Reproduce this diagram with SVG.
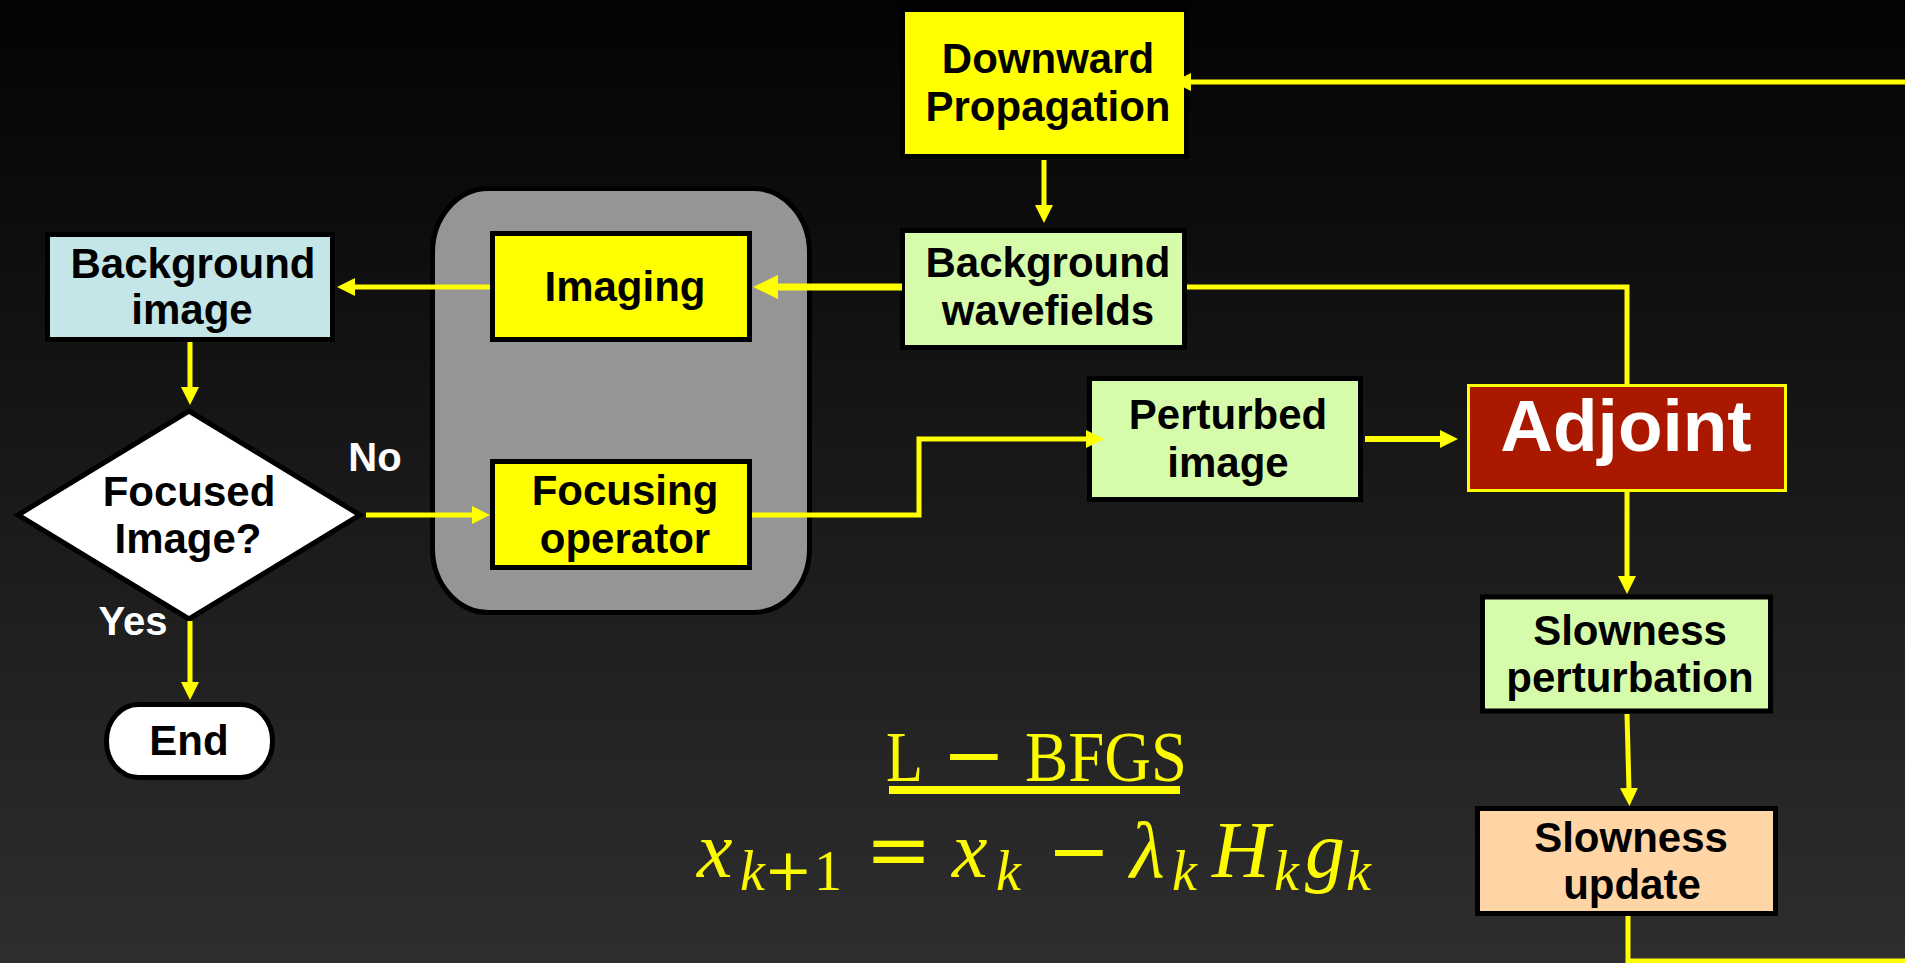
<svg xmlns="http://www.w3.org/2000/svg" width="1905" height="963" viewBox="0 0 1905 963">
<defs>
<linearGradient id="bg" x1="0" y1="0" x2="0" y2="1">
<stop offset="0" stop-color="#030303"/>
<stop offset="1" stop-color="#2e2e2e"/>
</linearGradient>
<marker id="arr" viewBox="0 0 18 18" refX="2" refY="9" markerWidth="18" markerHeight="18" markerUnits="userSpaceOnUse" orient="auto"><path d="M0,0 L18,9 L0,18 z" fill="#ffff00"/></marker>
<marker id="arrBig" viewBox="0 0 25 24" refX="3" refY="12" markerWidth="25" markerHeight="24" markerUnits="userSpaceOnUse" orient="auto"><path d="M0,0 L25,12 L0,24 z" fill="#ffff00"/></marker>
<style>
.box{stroke:#000;stroke-width:5}
.yel{fill:#ffff00}
.grn{fill:#d6fcab}
.blu{fill:#c4e6e8}
.pch{fill:#ffd5a6}
.wht{fill:#ffffff}
.t{font-family:"Liberation Sans",Arial,sans-serif;font-weight:bold;font-size:42px;fill:#000;text-anchor:middle}
.lbl{font-family:"Liberation Sans",Arial,sans-serif;font-weight:bold;font-size:40px;fill:#fff;text-anchor:middle}
.c{fill:none;stroke:#ffff00;stroke-width:5}
.m{font-family:"Liberation Serif","Times New Roman",serif;font-style:italic;font-size:80px;fill:#fcfa00}
.s{font-size:56px}
.op{font-family:"DejaVu Serif",serif;font-style:normal}
.up{font-style:normal}
</style>
</defs>
<rect x="0" y="0" width="1905" height="963" fill="url(#bg)"/>

<g id="group-imaging">
<rect x="432.5" y="188.5" width="377" height="424" rx="56" ry="64" fill="#959595" stroke="#000" stroke-width="5"/>
</g>

<g id="node-downward">
<rect class="box yel" x="902.5" y="9.5" width="284" height="147"/>
<text class="t" x="1048" y="73">Downward</text>
<text class="t" x="1048" y="121">Propagation</text>
</g>

<g id="node-bgwavefields">
<rect class="box grn" x="902.5" y="230.5" width="282" height="117"/>
<text class="t" x="1048" y="277">Background</text>
<text class="t" x="1048" y="325">wavefields</text>
</g>

<g id="node-imaging">
<rect class="box yel" x="492.5" y="233.5" width="257" height="106"/>
<text class="t" x="625" y="301">Imaging</text>
</g>

<g id="node-focusing">
<rect class="box yel" x="492.5" y="461.5" width="257" height="106"/>
<text class="t" x="625" y="505">Focusing</text>
<text class="t" x="625" y="553">operator</text>
</g>

<g id="node-bgimage">
<rect class="box blu" x="47.5" y="234.5" width="285" height="105"/>
<text class="t" x="193" y="278">Background</text>
<text class="t" x="192" y="324">image</text>
</g>

<g id="node-decision">
<polygon class="box wht" points="189,411 360,515 189,619 18,515"/>
<text class="t" x="189" y="506">Focused</text>
<text class="t" x="188" y="553">Image?</text>
</g>

<g id="node-end">
<rect class="box wht" x="106.5" y="704.5" width="166" height="73" rx="32" ry="36"/>
<text class="t" x="189" y="755">End</text>
</g>

<g id="node-perturbed">
<rect class="box grn" x="1089.5" y="378.5" width="271" height="121"/>
<text class="t" x="1228" y="429">Perturbed</text>
<text class="t" x="1228" y="477">image</text>
</g>

<g id="node-adjoint">
<rect x="1468.5" y="385.5" width="317" height="105" fill="#aa1800" stroke="#ffff00" stroke-width="3"/>
<text x="1626" y="451" font-family="Liberation Sans, Arial, sans-serif" font-weight="bold" font-size="73" fill="#fff" text-anchor="middle">Adjoint</text>
</g>

<g id="node-slowpert">
<rect class="box grn" x="1482.5" y="597" width="288" height="114"/>
<text class="t" x="1630" y="645">Slowness</text>
<text class="t" x="1630" y="692">perturbation</text>
</g>

<g id="node-slowupdate">
<rect class="box pch" x="1477.5" y="808.5" width="298" height="105"/>
<text class="t" x="1631" y="852">Slowness</text>
<text class="t" x="1632" y="899">update</text>
</g>

<g id="labels">
<text class="lbl" x="375" y="471">No</text>
<text class="lbl" x="133" y="635">Yes</text>
</g>

<g id="connectors">
<path class="c" d="M1905,82 H1189" marker-end="url(#arr)"/>
<path class="c" d="M1044,160 V207" marker-end="url(#arr)"/>
<path class="c" d="M902,287 H775" style="stroke-width:7" marker-end="url(#arrBig)"/>
<path class="c" d="M490,287 H353" marker-end="url(#arr)"/>
<path class="c" d="M190,342 V389" marker-end="url(#arr)"/>
<path class="c" d="M366,515 H474" marker-end="url(#arr)"/>
<path class="c" d="M752,515 H919 V439 H1088" marker-end="url(#arr)"/>
<path class="c" d="M1365,439 H1442" style="stroke-width:6" marker-end="url(#arr)"/>
<path class="c" d="M1187,287 H1627 V385"/>
<path class="c" d="M1627,492 V578" marker-end="url(#arr)"/>
<path class="c" d="M1627,714 L1629,790" marker-end="url(#arr)"/>
<path class="c" d="M190,621 V684" marker-end="url(#arr)"/>
<path class="c" d="M1628,916 V961 H1905"/>
</g>

<g id="formula">
<text x="886" y="781" font-family="Liberation Serif, Times New Roman, serif" font-size="72" fill="#fcfa00" textLength="37" lengthAdjust="spacingAndGlyphs">L</text>
<text x="942" y="781" font-family="DejaVu Serif, serif" font-size="76" fill="#fcfa00">−</text>
<text x="1025" y="781" font-family="Liberation Serif, Times New Roman, serif" font-size="72" fill="#fcfa00" textLength="162" lengthAdjust="spacingAndGlyphs">BFGS</text>
<rect x="889" y="786" width="291" height="8" fill="#ffff00"/>
<text class="m"><tspan x="697" y="877">x</tspan><tspan class="s" x="740" y="890">k</tspan><tspan class="s op" x="764" y="890" style="font-size:58px">+</tspan><tspan class="s up" x="814" y="890">1</tspan><tspan class="op" x="865" y="877">=</tspan><tspan x="952" y="877">x</tspan><tspan class="s" x="996" y="890">k</tspan><tspan class="op" x="1047" y="877" style="font-size:76px">−</tspan><tspan x="1130" y="877">λ</tspan><tspan class="s" x="1172" y="890">k</tspan><tspan x="1212" y="877">H</tspan><tspan class="s" x="1274" y="890">k</tspan><tspan x="1305" y="877">g</tspan><tspan class="s" x="1346" y="890">k</tspan></text>
</g>
</svg>
